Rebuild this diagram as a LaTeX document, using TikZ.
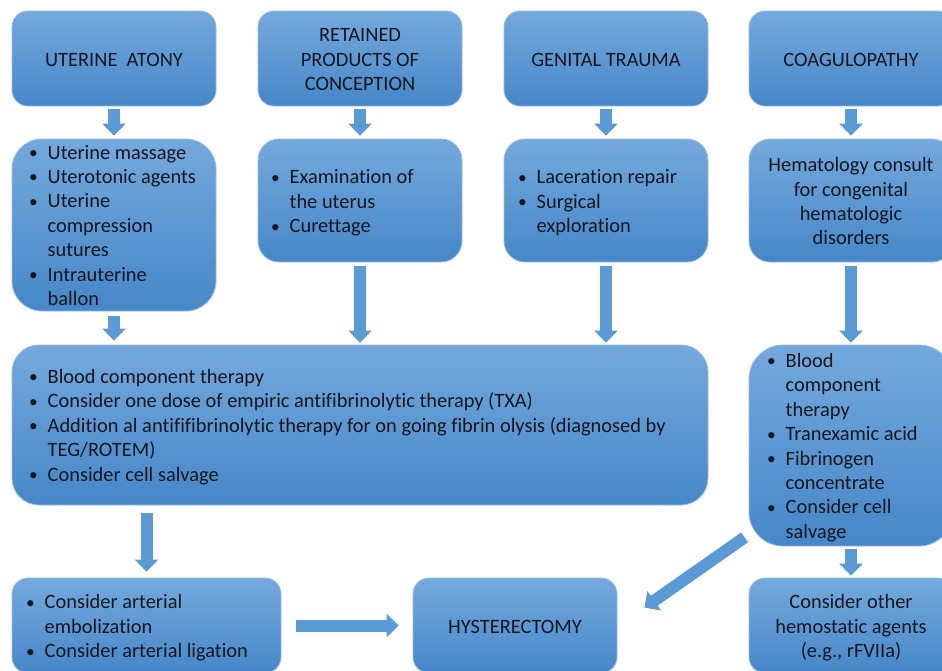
\documentclass[tikz,border=0pt]{standalone}
\usepackage{fontspec}
\setmainfont{Carlito}[Ligatures={NoCommon}]
\usetikzlibrary{arrows.meta,calc}
\definecolor{boxtop}{RGB}{116,169,221}
\definecolor{boxbot}{RGB}{70,135,200}
\definecolor{boxedge}{RGB}{150,190,230}
\definecolor{arrowfill}{RGB}{91,155,213}
\definecolor{txtc}{RGB}{22,22,30}
\newcommand\fsz{\fontsize{20.4}{24.4}\selectfont}
\newcommand\bi{\makebox[18.5pt][l]{\raisebox{0.6pt}{\scalebox{0.85}{\textbullet}}}}
\newcommand\bc{\makebox[18.5pt]{}}
\newcommand\ctext[1]{\raisebox{-3pt}[\height][\depth]{\begin{tabular}{@{}c@{}}#1\end{tabular}}}
\tikzset{
  box/.style={rectangle, rounded corners=#1, top color=boxtop, bottom color=boxbot,
    draw=boxedge, line width=0.8pt, inner sep=0pt, text=txtc, align=center, font=\fsz},
  box/.default=16pt,
  lst/.style={inner sep=0pt, anchor=west, text=txtc, font=\fsz},
  blk/.style={draw=arrowfill, line width=12pt, -{Triangle[width=23pt,length=12pt]}}
}
\begin{document}
\begin{tikzpicture}[x=1pt,y=-1pt]
\useasboundingbox (0,0) rectangle (942,670);
\clip (0,0) rectangle (942,670);
% row 1
\node[box, minimum width=204pt, minimum height=95pt] (b1) at (114,58.5) {\ctext{UTERINE\ \ ATONY}};
\node[box, minimum width=204pt, minimum height=95pt] (b2) at (360,58.5) {\ctext{RETAINED\\PRODUCTS OF\\CONCEPTION}};
\node[box, minimum width=204pt, minimum height=95pt] (b3) at (606,58.5) {\ctext{GENITAL TRAUMA}};
\node[box, minimum width=204pt, minimum height=95pt] (b4) at (851,58.5) {\ctext{COAGULOPATHY}};
% row 2
\node[box=30pt, minimum width=204pt, minimum height=172pt] (b5) at (114,225) {};
\node[box=21pt, minimum width=204pt, minimum height=123pt] (b6) at (360,200.5) {};
\node[box=21pt, minimum width=204pt, minimum height=123pt] (b7) at (606,200.5) {};
\node[box=21pt, minimum width=204pt, minimum height=123pt] (b8) at (851,200.5) {\ctext{Hematology consult\\for congenital\\hematologic\\disorders}};
% row 3
\node[box=27pt, minimum width=696pt, minimum height=160pt] (b9) at (360,425) {};
\node[box=34pt, minimum width=204pt, minimum height=201pt] (b10) at (851,445.5) {};
% row 4
\node[box, minimum width=269pt, minimum height=95pt] (b11) at (146.5,625.5) {};
\node[box, minimum width=204pt, minimum height=95pt] (b12) at (515,625.5) {\ctext{HYSTERECTOMY}};
\node[box, minimum width=204pt, minimum height=95pt] (b13) at (851,625.5) {\ctext{Consider other\\hemostatic agents\\(e.g., rFVIIa)}};
% list texts
\node[lst] (t5) at (29,227.5) {\begin{tabular}{@{}l@{}}
\bi Uterine massage\\ \bi Uterotonic agents\\ \bi Uterine\\ \bc compression\\ \bc sutures\\ \bi Intrauterine\\ \bc ballon\end{tabular}};
\node[lst] (t6) at (271,203.5) {\begin{tabular}{@{}l@{}}
\bi Examination of\\ \bc the uterus\\ \bi Curettage\end{tabular}};
\node[lst] (t7) at (518,203.5) {\begin{tabular}{@{}l@{}}
\bi Laceration repair\\ \bi Surgical\\ \bc exploration\end{tabular}};
\node[lst] (t9) at (29,427.5) {\begin{tabular}{@{}l@{}}
\bi Blood component therapy\\
\bi Consider one dose of empiric antifibrinolytic therapy (TXA)\\
\bi Addition al antififibrinolytic therapy for on going fibrin olysis (diagnosed by\\
\bc TEG/ROTEM)\\
\bi Consider cell salvage\end{tabular}};
\node[lst] (t10) at (767,448) {\begin{tabular}{@{}l@{}}
\bi Blood\\ \bc component\\ \bc therapy\\ \bi Tranexamic acid\\ \bi Fibrinogen\\ \bc concentrate\\ \bi Consider cell\\ \bc salvage\end{tabular}};
\node[lst] (t11) at (26,628.5) {\begin{tabular}{@{}l@{}}
\bi Consider arterial\\ \bc embolization\\ \bi Consider arterial ligation\end{tabular}};
% arrows
\draw[blk] ($(b1.south)+(0,3)$) -- ($(b5.north)+(0,-3)$);
\draw[blk] ($(b2.south)+(0,3)$) -- ($(b6.north)+(0,-3)$);
\draw[blk] ($(b3.south)+(0,3)$) -- ($(b7.north)+(0,-3)$);
\draw[blk] ($(b4.south)+(0,3)$) -- ($(b8.north)+(0,-3)$);
\draw[blk] ($(b5.south)+(0,5)$) -- ($(b5.south |- b9.north)+(0,-4)$);
\draw[blk] ($(b6.south)+(0,4)$) -- ($(b6.south |- b9.north)+(0,-2)$);
\draw[blk] ($(b7.south)+(0,4)$) -- ($(b7.south |- b9.north)+(0,-2)$);
\draw[blk] ($(b8.south)+(0,4)$) -- ($(b10.north)+(0,-2)$);
\draw[blk] ($(b11.north |- b9.south)+(0,8)$) -- ($(b11.north)+(0,-6)$);
\draw[blk] ($(b11.east)+(15,0)$) -- ($(b12.west)+(-14,0)$);
\draw[blk] ($(b10.south west)+(-4,-9)$) -- ($(b12.north east)+(27,30)$);
\draw[blk] ($(b10.south)+(0,3)$) -- ($(b13.north)+(0,-2)$);
\end{tikzpicture}
\end{document}
